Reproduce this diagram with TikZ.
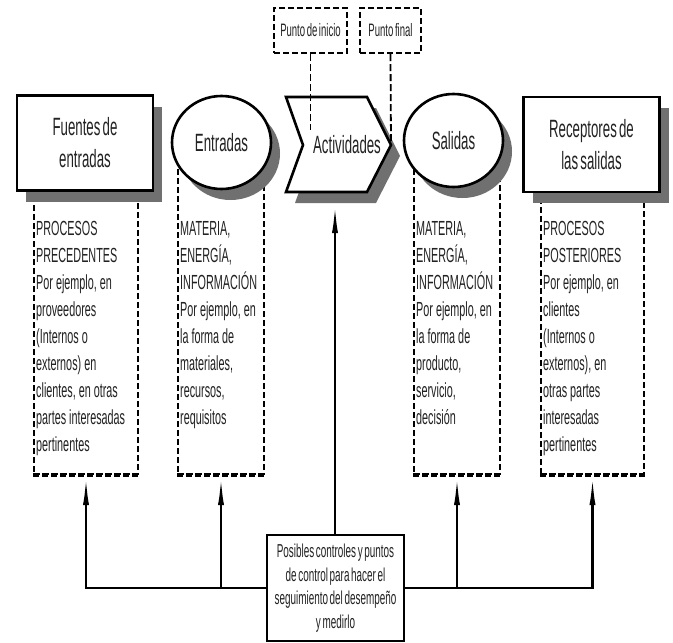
\documentclass[tikz,border=0pt]{standalone}
\usepackage{fontspec}
\setmainfont{Liberation Sans}[FakeStretch=0.53,WordSpace=0.6]
\usetikzlibrary{shapes.geometric,shadows,arrows.meta}
\definecolor{ink}{HTML}{222222}
\definecolor{shade}{HTML}{707070}
\newcommand\myspacing{\spaceskip=3pt\relax\xspaceskip=3pt\relax}
\begin{document}
\begin{tikzpicture}[x=1pt,y=-1pt,
  every node/.style={text=ink},
  shd/.style={drop shadow={shadow xshift=9pt,shadow yshift=-11pt,fill=shade,opacity=1}},
  headbox/.style={draw=black,line width=2.6pt,fill=white,shd,minimum width=136pt,minimum height=95pt,inner sep=0pt,align=center,font=\fontsize{25}{32}\selectfont},
  headell/.style={ellipse,draw=black,line width=2.6pt,fill=white,shd,minimum width=99pt,minimum height=93pt,inner sep=0pt,font=\fontsize{25}{32}\selectfont},
  dbox/.style={draw=black,line width=2pt,dash pattern=on 6pt off 3pt,fill=white,inner sep=0pt,anchor=north west},
  dbottom/.style={line width=3.5pt,dash pattern=on 6pt off 3pt},
  dtext/.style={anchor=north west,inner sep=0pt,align=left,text width=106pt,font=\fontsize{20.4}{27}\selectfont,execute at begin node=\myspacing},
  topbox/.style={draw=black,line width=2.4pt,dash pattern=on 6pt off 3pt,inner sep=0pt,minimum height=45pt,font=\fontsize{18}{18}\selectfont},
  dline/.style={line width=1.8pt,dash pattern=on 7pt off 3pt},
  arr/.style={line width=2.4pt,-{Latex[length=30pt,width=6pt]}},
  solid line/.style={line width=2.6pt}]
\useasboundingbox (0,0) rectangle (673,643);
% dashed text boxes
\node[dbox,minimum width=104pt,minimum height=323pt] (fb) at (33,150) {};
\node[dbox,minimum width=86pt,minimum height=323pt] (eb) at (177,150) {};
\node[dbox,minimum width=86pt,minimum height=323pt] (sb) at (413,150) {};
\node[dbox,minimum width=103pt,minimum height=323pt] (rb) at (540,150) {};
\foreach \b in {fb,eb,sb,rb} \draw[dbottom] (\b.south west) -- (\b.south east);
% texts in dashed boxes
\node[dtext] (ft) at (36,221) {PROCESOS\\PRECEDENTES\\Por ejemplo, en\\proveedores\\(Internos o\\externos) en\\clientes, en otras\\partes interesadas\\pertinentes};
\node[dtext] (et) at (180,221) {MATERIA,\\ENERGÍA,\\INFORMACIÓN\\Por ejemplo, en\\la forma de\\materiales,\\recursos,\\requisitos};
\node[dtext] (st) at (416,221) {MATERIA,\\ENERGÍA,\\INFORMACIÓN\\Por ejemplo, en\\la forma de\\producto,\\servicio,\\decisión};
\node[dtext] (rt) at (543,221) {PROCESOS\\POSTERIORES\\Por ejemplo, en\\clientes\\(Internos o\\externos), en\\otras partes\\interesadas\\pertinentes};
% head shapes
\node[headbox] (fu) at (85,143) {Fuentes de\\entradas};
\node[headell] (en) at (221.5,142.5) {Entradas};
\coordinate (tip) at (391,145);
\draw[line width=2.6pt,fill=white,shd,line join=miter] (286,97) -- (367,97) -- (tip) -- (367,192) -- (286,192) -- (303,145) -- cycle;
\node[font=\fontsize{25}{32}\selectfont,inner sep=0pt] (act) at (347,145) {Actividades};
\node[headell] (sa) at (453.5,140.5) {Salidas};
\node[headbox] (re) at (591.5,144.5) {Receptores de\\las salidas};
% top boxes
\node[topbox,minimum width=73pt] (pi) at (310.5,30.5) {Punto de inicio};
\node[topbox,minimum width=61pt] (pf) at (390.5,30.5) {Punto final};
\coordinate (piend) at (310.5,130);
\draw[dline] (pi.south) -- (piend);
\draw[dline] (pf.south) -- (tip);
% control box
\node[draw=black,line width=2.6pt,fill=white,minimum width=137pt,minimum height=106pt,inner sep=0pt,align=center,font=\fontsize{18.7}{23.5}\selectfont] (pc) at (335.5,588) {Posibles controles y puntos\\de control para hacer el\\seguimiento del desempeño\\y medirlo};
\coordinate (actb) at (335,203);
\draw[arr] (pc.north -| actb) -- (actb);
\draw[solid line] (pc.west) -- (pc.west -| fb.south);
\draw[solid line] (pc.east) -- (pc.east -| rb.south);
\draw[arr] (pc.west) -| (fb.south);
\draw[arr] (pc.west) -| (eb.south);
\draw[arr] (pc.east) -| (sb.south);
\draw[arr] (pc.east) -| (rb.south);
\end{tikzpicture}
\end{document}
